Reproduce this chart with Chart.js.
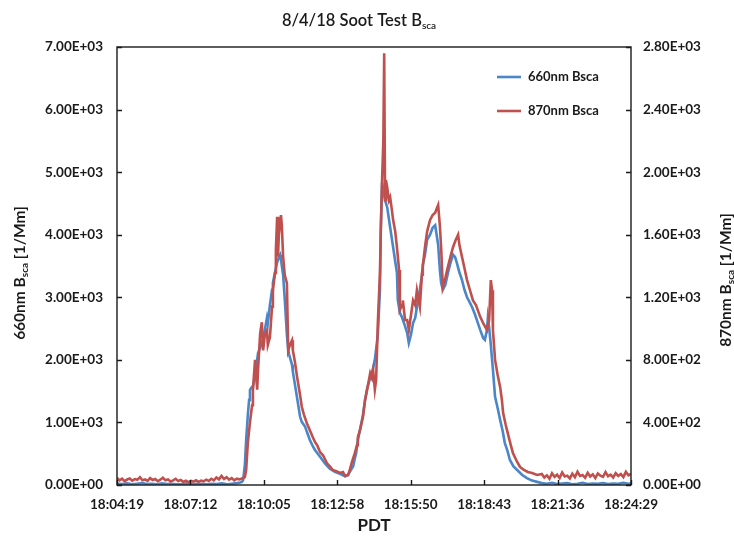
<!DOCTYPE html>
<html>
<head>
<meta charset="utf-8">
<script src="https://cdn.jsdelivr.net/npm/chart.js@4.4.0/dist/chart.umd.min.js"></script>
<style>
  html, body { margin: 0; padding: 0; background: #fff; }
  #chart { display: block; }
</style>
</head>
<body>
<canvas id="chart" width="734" height="537"></canvas>
<script>
// seconds after 18:04:19
const spanSec = 1210;
const xTickLabels = ['18:04:19', '18:07:12', '18:10:05', '18:12:58', '18:15:50', '18:18:43', '18:21:36', '18:24:29'];

// 660nm Bsca (left axis, 1/Mm)
const blueSec = [
  0, 12, 24, 35, 47, 59, 71, 82, 94, 106, 118, 129, 141, 153, 165, 177, 188, 200, 212, 224,
  235, 247, 259, 271, 282, 290, 294, 297, 301, 304, 308, 311, 313, 318, 320, 325, 330, 332, 337, 341,
  346, 353, 355, 360, 365, 367, 372, 377, 381, 384, 386, 391, 395, 400, 403, 405, 412, 414, 419, 424,
  431, 435, 443, 447, 454, 461, 466, 478, 490, 501, 513, 525, 537, 544, 548, 556, 560, 563, 567, 572,
  579, 584, 589, 596, 603, 607, 614, 619, 621, 624, 629, 631, 636, 643, 650, 659, 661, 666, 671, 677,
  683, 687, 692, 697, 702, 706, 709, 713, 718, 720, 725, 730, 737, 743, 749, 756, 760, 763, 767, 773,
  779, 785, 791, 796, 800, 806, 812, 818, 824, 831, 836, 843, 847, 855, 862, 866, 871, 873, 876, 880,
  885, 890, 896, 902, 908, 913, 919, 925, 933, 942, 954, 965, 977, 989, 1000,
  1012, 1024, 1036, 1048, 1060, 1072, 1084, 1096, 1108, 1120, 1132, 1144, 1156, 1168, 1180, 1192, 1204, 1210
];
const blueVal = [
  20, 15, 25, 10, 20, 30, 15, 20, 10, 25, 15, 20, 10, 15, 25, 10, 20, 15, 10, 20,
  15, 25, 10, 20, 30, 40, 48, 80, 320, 720, 1120, 1360, 1520, 1570, 1580, 1710, 2000, 2110, 2190, 2270,
  2400, 2670, 2590, 2880, 3120, 3230, 3400, 3560, 3640, 3680, 3600, 3360, 2960, 2400, 2160, 2090, 1920, 1810, 1600, 1390,
  1090, 1010, 930, 850, 720, 620, 560, 450, 340, 260, 210, 180, 140, 160, 210, 300, 430, 510, 720, 880,
  1120, 1360, 1550, 1710, 1870, 2000, 2400, 3120, 4070, 4830, 4630, 4550, 4440, 4120, 3800, 3390, 2960, 2750, 2680, 2560,
  2430, 2270, 2400, 2590, 2670, 2840, 2960, 3120, 3360, 3520, 3680, 3920, 4000, 4110, 4150, 3840, 3440, 3230, 3120, 3200,
  3390, 3550, 3680, 3640, 3550, 3400, 3280, 3120, 3000, 2910, 2840, 2720, 2640, 2480, 2350, 2320, 2480, 2670, 2520, 2240,
  1840, 1410, 1230, 1040, 860, 670, 550, 400, 300, 240, 160, 110, 70, 50, 30,
  20, 35, 15, 25, 30, 10, 20, 35, 15, 25, 20, 30, 15, 25, 20, 35, 20, 25
];

// 870nm Bsca (right axis, 1/Mm)
const redSec = [
  0, 6, 12, 18, 24, 30, 36, 42, 48, 54, 60, 66, 72, 78, 84, 90, 96, 102, 108, 114,
  120, 126, 132, 138, 144, 150, 156, 162, 168, 174, 180, 186, 192, 198, 204, 210, 216, 222, 228, 234,
  240, 246, 252, 258, 264, 270, 276, 282, 288, 294,
  301, 304, 308, 313, 318, 320, 325, 330, 332, 337, 341, 344, 348, 353, 355, 360, 365, 367, 372, 374,
  377, 379, 381, 386, 388, 391, 395, 400, 403, 407, 412, 414, 419, 424, 431, 435, 440, 447, 454, 461,
  466, 472, 478, 485, 494, 501, 508, 515, 525, 532, 537, 544, 548, 553, 560, 565, 567, 572, 579, 584,
  589, 596, 600, 603, 607, 610, 614, 619, 621, 624, 627, 629, 631, 633, 636, 640, 643, 647, 650, 655,
  659, 664, 666, 671, 673, 678, 683, 687, 692, 697, 702, 706, 713, 718, 725, 730, 737, 743, 749, 753,
  756, 760, 763, 767, 773, 779, 785, 791, 797, 803, 806, 812, 818, 824, 831, 838, 845, 855, 862, 871,
  876, 880, 883, 885, 890, 896, 902, 906, 909, 915, 920, 927, 932, 942, 949, 958, 967, 977, 989,
  1000, 1006, 1012, 1018, 1024, 1030, 1036, 1042, 1048, 1054, 1060, 1066, 1072, 1078, 1084, 1090, 1096, 1102,
  1108, 1114, 1120, 1126, 1132, 1138, 1144, 1150, 1156, 1162, 1168, 1174, 1180, 1186, 1192, 1198, 1204, 1210
];
const redVal = [
  45, 30, 40, 25, 35, 42, 28, 38, 33, 50, 30, 36, 26, 44, 32, 38, 24, 34, 46, 30,
  36, 22, 30, 40, 26, 32, 20, 28, 18, 26, 22, 30, 20, 28, 24, 34, 26, 40, 30, 48,
  36, 58, 38, 50, 34, 44, 30, 40, 36, 42,
  50, 96, 270, 400, 510, 610, 800, 610, 735, 970, 1040, 860, 960, 990, 895, 945, 1140, 1250, 1355, 1500,
  1715, 1460, 1600, 1725, 1660, 1460, 1340, 1290, 860, 895, 925, 860, 785, 690, 575, 500, 450, 395, 350, 305,
  275, 250, 210, 190, 140, 120, 96, 90, 77, 83, 58, 64, 96, 147, 205, 255, 305, 350, 435, 545,
  610, 715, 685, 735, 610, 670, 1035, 1355, 1630, 1950, 2205, 2760, 1820, 1950, 1905, 1820, 1840, 1760, 1695, 1620,
  1520, 1375, 1120, 1150, 1180, 1055, 1055, 990, 1085, 1180, 1150, 1245, 1140, 1355, 1520, 1620, 1695, 1725, 1740, 1770,
  1790, 1660, 1520, 1265, 1325, 1395, 1460, 1520, 1565, 1600, 1535, 1460, 1385, 1310, 1245, 1180, 1150, 1075, 1035, 990,
  1055, 1310, 1245, 990, 800, 705, 625, 545, 460, 385, 330, 255, 205, 147, 115, 96, 83, 77, 64,
  70, 48, 62, 40, 75, 52, 66, 45, 80, 55, 60, 42, 72, 50, 85, 58, 64, 46,
  78, 54, 68, 44, 74, 60, 52, 82, 56, 66, 48, 76, 58, 70, 50, 84, 62, 72
];

const FONT = 'Lato, "Open Sans", sans-serif';
const BLUE = '#4a86c8';
const RED = '#c0504d';

function sci(v) {
  const s = Number(v).toExponential(2).toUpperCase();
  const parts = s.split('E');
  const sign = parts[1][0] === '-' ? '-' : '+';
  return parts[0] + 'E' + sign + parts[1].replace(/^[+-]/, '').padStart(2, '0');
}

function toPoints(xs, ys) {
  return xs.map((x, i) => ({ x: x, y: ys[i] }));
}

// draw runs of text, some of them as subscripts, centred on (x, y)
function drawRuns(ctx, runs, x, y, size, weight) {
  const subSize = Math.round(size * 0.62);
  let total = 0;
  runs.forEach(r => {
    ctx.font = weight + ' ' + (r.sub ? subSize : size) + 'px ' + FONT;
    r.w = ctx.measureText(r.t).width;
    total += r.w;
  });
  let cx = x - total / 2;
  ctx.textAlign = 'left';
  ctx.textBaseline = 'middle';
  runs.forEach(r => {
    ctx.font = weight + ' ' + (r.sub ? subSize : size) + 'px ' + FONT;
    ctx.fillText(r.t, cx, r.sub ? y + size * 0.3 : y);
    cx += r.w;
  });
}

const decor = {
  id: 'decor',
  afterDatasetsDraw(chart) {
    const { ctx, chartArea: a, scales } = chart;
    ctx.save();
    ctx.strokeStyle = '#1a1a1a';
    ctx.lineWidth = 1.4;
    ctx.strokeRect(a.left, a.top, a.right - a.left, a.bottom - a.top);
    ctx.beginPath();
    scales.x.ticks.forEach(t => {
      const px = Math.round(scales.x.getPixelForValue(t.value)) + 0.5;
      ctx.moveTo(px, a.bottom);
      ctx.lineTo(px, a.bottom - 5);
    });
    scales.y.ticks.forEach(t => {
      const py = Math.round(scales.y.getPixelForValue(t.value)) + 0.5;
      ctx.moveTo(a.left, py);
      ctx.lineTo(a.left + 5, py);
    });
    scales.y1.ticks.forEach(t => {
      const py = Math.round(scales.y1.getPixelForValue(t.value)) + 0.5;
      ctx.moveTo(a.right, py);
      ctx.lineTo(a.right - 5, py);
    });
    ctx.stroke();
    ctx.restore();
  },
  afterDraw(chart) {
    const { ctx, chartArea: a } = chart;
    ctx.save();
    ctx.fillStyle = '#1a1a1a';
    // title
    drawRuns(ctx, [{ t: '8/4/18 Soot Test B' }, { t: 'sca', sub: true }], 359, 21, 16.5, '600');
    // x title
    drawRuns(ctx, [{ t: 'PDT' }], (a.left + a.right) / 2, 526, 17, 'bold');
    // y titles
    const yRuns = n => [{ t: n + 'nm B' }, { t: 'sca', sub: true }, { t: ' [1/Mm]' }];
    ctx.save();
    ctx.translate(20, 273);
    ctx.rotate(-Math.PI / 2);
    drawRuns(ctx, yRuns('660'), 0, 0, 15.5, 'bold');
    ctx.restore();
    ctx.save();
    ctx.translate(726, 280);
    ctx.rotate(-Math.PI / 2);
    drawRuns(ctx, yRuns('870'), 0, 0, 15.5, 'bold');
    ctx.restore();
    // legend
    chart.data.datasets.forEach((ds, i) => {
      const ly = 77 + i * 34;
      ctx.strokeStyle = ds.borderColor;
      ctx.lineWidth = 2.6;
      ctx.beginPath();
      ctx.moveTo(497, ly);
      ctx.lineTo(521, ly);
      ctx.stroke();
      ctx.font = 'bold 13px ' + FONT;
      ctx.textAlign = 'left';
      ctx.textBaseline = 'middle';
      ctx.fillText(ds.label, 528, ly);
    });
    ctx.restore();
  }
};

const tickFont = { family: FONT, size: 13.5, weight: 'bold' };

const ctx = document.getElementById('chart').getContext('2d');
const chart = new Chart(ctx, {
  type: 'line',
  data: {
    datasets: [{
      label: '660nm Bsca',
      data: toPoints(blueSec, blueVal),
      yAxisID: 'y',
      borderColor: BLUE,
      borderWidth: 2.6,
      pointRadius: 0,
      fill: false,
      tension: 0,
      order: 2
    }, {
      label: '870nm Bsca',
      data: toPoints(redSec, redVal),
      yAxisID: 'y1',
      borderColor: RED,
      borderWidth: 2.6,
      pointRadius: 0,
      fill: false,
      tension: 0,
      order: 1
    }]
  },
  options: {
    responsive: false,
    animation: false,
    devicePixelRatio: 1,
    layout: { padding: { top: 47, left: 0, right: 0, bottom: 0 } },
    plugins: {
      legend: { display: false },
      title: { display: false },
      tooltip: { enabled: false }
    },
    scales: {
      x: {
        type: 'linear',
        min: 0,
        max: spanSec,
        grid: { display: false, drawTicks: false },
        border: { display: false },
        afterBuildTicks: scale => {
          scale.ticks = xTickLabels.map((l, i) => ({ value: i * spanSec / (xTickLabels.length - 1) }));
        },
        afterFit: scale => { scale.height = 52; },
        ticks: {
          padding: 12,
          maxRotation: 0,
          autoSkip: false,
          color: '#1a1a1a',
          font: tickFont,
          callback: (v, i) => xTickLabels[i]
        }
      },
      y: {
        position: 'left',
        min: 0,
        max: 7000,
        grid: { display: false, drawTicks: false },
        border: { display: false },
        afterFit: scale => { scale.width = 117; },
        ticks: {
          stepSize: 1000,
          padding: 14,
          color: '#1a1a1a',
          font: tickFont,
          callback: v => sci(v)
        }
      },
      y1: {
        position: 'right',
        min: 0,
        max: 2800,
        grid: { display: false, drawTicks: false },
        border: { display: false },
        afterFit: scale => { scale.width = 103; },
        ticks: {
          stepSize: 400,
          padding: 12,
          color: '#1a1a1a',
          font: tickFont,
          callback: v => sci(v)
        }
      }
    }
  },
  plugins: [decor]
});
</script>
</body>
</html>
